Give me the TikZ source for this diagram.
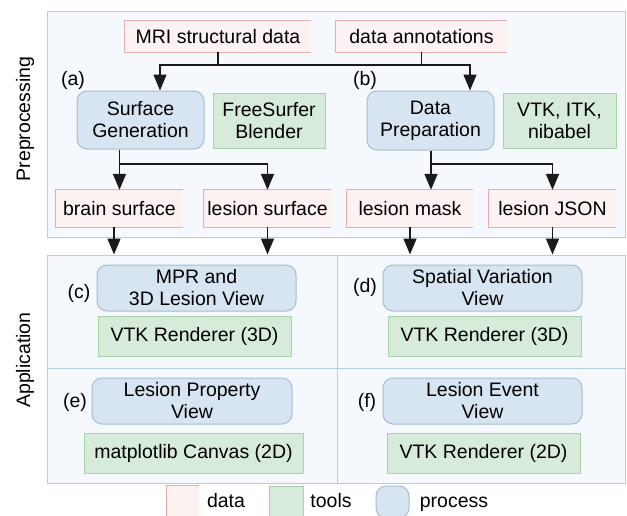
\documentclass[tikz,border=0pt]{standalone}
\usepackage{fontspec}
\setmainfont{Liberation Sans}
\usetikzlibrary{arrows.meta}
\definecolor{panelfill}{HTML}{F5F9FD}
\definecolor{panelline}{HTML}{B0D0E4}
\definecolor{procfill}{HTML}{D7E4F1}
\definecolor{procline}{HTML}{A6BCD2}
\definecolor{toolfill}{HTML}{D7EBDB}
\definecolor{toolline}{HTML}{A8D3A8}
\definecolor{datafill}{HTML}{FDF2F2}
\definecolor{dataline}{HTML}{E2AFAF}
\definecolor{linecol}{HTML}{1A1A1A}
\newcommand\databorder[1]{\draw[datalinestyle] (#1.north east) -| (#1.south west) -- (#1.south east);}
\begin{document}
\begin{tikzpicture}[x=1pt,y=-1pt,
  every node/.style={font=\fontsize{19.5}{22}\selectfont, inner sep=0pt, align=center},
  panel/.style={draw=panelline, fill=panelfill, line width=1pt},
  procbox/.style={draw=procline, fill=procfill, rounded corners=10pt, line width=1pt},
  toolbox/.style={draw=toolline, fill=toolfill, line width=1pt},
  databox/.style={fill=datafill},
  datalinestyle/.style={draw=dataline, line width=1pt},
  conn/.style={draw=linecol, line width=1.5pt},
  arr/.style={conn, -{Triangle[length=16pt,width=13pt]}},
]
\useasboundingbox (0,0) rectangle (627,515);
\clip (0,0) rectangle (627,515);

% panels
\node[panel, minimum width=578pt, minimum height=226pt] (pre) at (336,124) {};
\node[panel, minimum width=578pt, minimum height=228pt] (app) at (336,369) {};
\draw[draw=panelline, line width=1pt] ([xshift=1pt]app.north) -- ([xshift=1pt]app.south);
\draw[draw=panelline, line width=1pt] ([yshift=1pt]app.west) -- ([yshift=1pt]app.east);
\node[rotate=90] (lpre) at (25,119) {Preprocessing};
\node[rotate=90] (lapp) at (25,360) {Application};

% data boxes
\node[databox, minimum width=186pt, minimum height=31pt] (mri) at (218,36.5) {MRI structural data};
\databorder{mri}
\node[databox, minimum width=171pt, minimum height=31pt] (ann) at (421.5,36.5) {data annotations};
\databorder{ann}
\node[databox, minimum width=127pt, minimum height=37pt] (brain) at (119.5,208.5) {brain surface};
\databorder{brain}
\node[databox, minimum width=127pt, minimum height=37pt] (lsurf) at (267.5,208.5) {lesion surface};
\databorder{lsurf}
\node[databox, minimum width=126pt, minimum height=37pt] (lmask) at (410,208.5) {lesion mask};
\databorder{lmask}
\node[databox, minimum width=127pt, minimum height=37pt] (ljson) at (552.5,208.5) {lesion JSON};
\databorder{ljson}

% process boxes
\node[procbox, minimum width=127pt, minimum height=58pt] (sg) at (140.5,120) {Surface\\Generation};
\node[procbox, minimum width=127pt, minimum height=59pt] (dp) at (430.5,120.5) {Data\\Preparation};
\node[procbox, minimum width=199pt, minimum height=46pt] (mpr) at (196.5,288) {MPR and\\3D Lesion View};
\node[procbox, minimum width=199pt, minimum height=46pt] (svv) at (482.5,288) {Spatial Variation\\View};
\node[procbox, minimum width=200pt, minimum height=46pt] (lpv) at (192,401) {Lesion Property\\View};
\node[procbox, minimum width=199pt, minimum height=46pt] (lev) at (482.5,401) {Lesion Event\\View};

% tool boxes
\node[toolbox, minimum width=112pt, minimum height=55pt] (fsb) at (269,120.5) {FreeSurfer\\Blender};
\node[toolbox, minimum width=113pt, minimum height=55pt] (vin) at (559.5,120.5) {VTK, ITK,\\nibabel};
\node[toolbox, minimum width=193pt, minimum height=40pt] (vr3a) at (194.5,336) {VTK Renderer (3D)};
\node[toolbox, minimum width=193pt, minimum height=40pt] (vr3b) at (484.5,336) {VTK Renderer (3D)};
\node[toolbox, minimum width=219pt, minimum height=40pt] (mpl) at (193.5,453) {matplotlib Canvas (2D)};
\node[toolbox, minimum width=193pt, minimum height=40pt] (vr2) at (483.5,453) {VTK Renderer (2D)};

% labels
\node (la) at (73,80) {(a)};
\node (lb) at (365,80) {(b)};
\node (lc) at (79,293) {(c)};
\node (ld) at (365,287) {(d)};
\node (le) at (75,402) {(e)};
\node (lf) at (367,402) {(f)};

% connectors
\coordinate (j1) at (218,65);
\draw[conn] (mri.south) -- (j1);
\draw[conn] (ann.south) -- (ann.south |- j1);
\draw[arr] (j1) -| ([xshift=19.5pt]sg.north);
\draw[arr] (j1) -| ([xshift=39.5pt]dp.north);

\coordinate (j3) at (119.5,164);
\draw[conn] (sg.south -| j3) -- (j3);
\draw[arr] (j3) -- (brain.north);
\draw[arr] (j3) -| (lsurf.north);

\coordinate (j4) at (431,164);
\draw[conn] (dp.south -| j4) -- (j4);
\draw[arr] (j4) -- (j4 |- lmask.north);
\draw[arr] (j4) -| (ljson.north);

\draw[arr] ([xshift=-5.5pt]brain.south) -- ([xshift=-5.5pt]brain.south |- app.north);
\draw[arr] (lsurf.south) -- (lsurf.south |- app.north);
\draw[arr] (lmask.south) -- (lmask.south |- app.north);
\draw[arr] (ljson.south) -- (ljson.south |- app.north);

% legend
\node[databox, minimum width=32pt, minimum height=32pt] (ldata) at (183,502) {};
\databorder{ldata}
\node[anchor=base] (tdata) at (226,507) {data};
\node[toolbox, minimum width=34pt, minimum height=32pt] (ltools) at (286,502) {};
\node[anchor=base] (ttools) at (331,507) {tools};
\node[procbox, minimum width=33pt, minimum height=32pt] (lproc) at (392.5,502) {};
\node[anchor=base] (tproc) at (454,507) {process};
\end{tikzpicture}
\end{document}
